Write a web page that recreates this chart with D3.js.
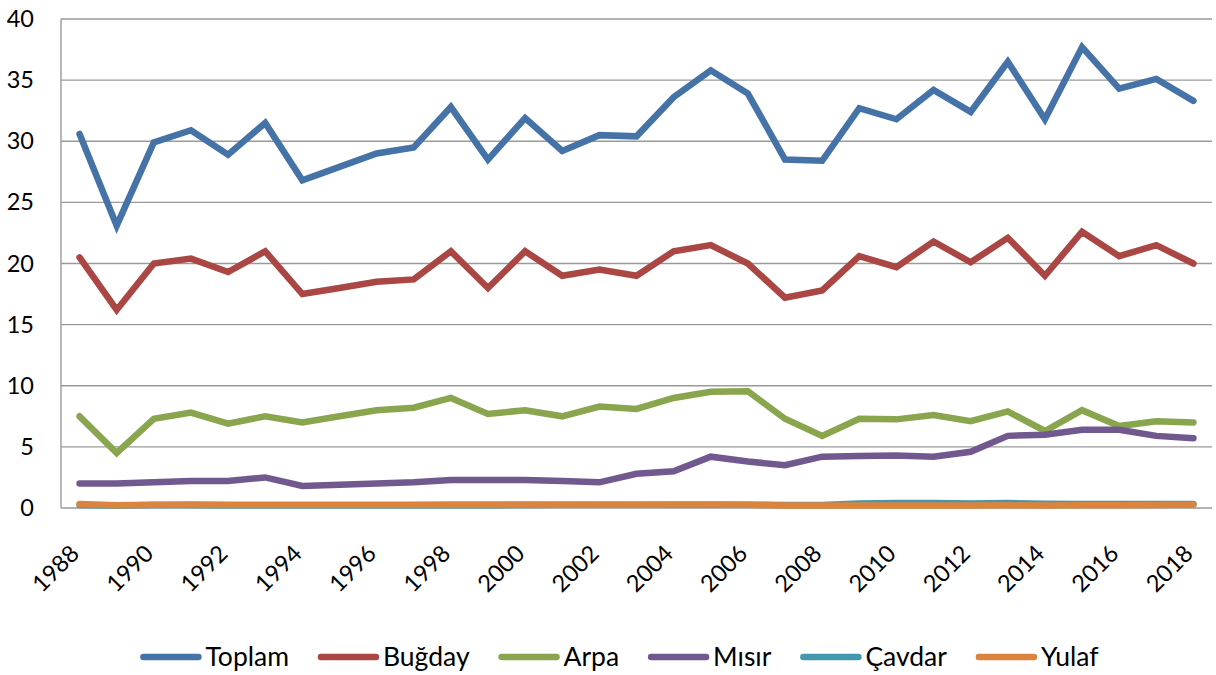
<!DOCTYPE html>
<html>
<head>
<meta charset="utf-8">
<script src="https://cdn.jsdelivr.net/npm/d3@7"></script>
<style>
  html, body { margin: 0; padding: 0; background: #fff; }
  svg { display: block; font-family: Lato, "Open Sans", sans-serif; }
</style>
</head>
<body>
<svg id="chart" width="1216" height="675"></svg>
<script>
// Years on the category axis
const years = d3.range(1988, 2019);

// Production series (million tonnes)
const toplam = [30.6, 23.1, 29.9, 30.9, 28.9, 31.5, 26.8, 27.9, 29.0, 29.5, 32.8, 28.5, 31.9, 29.2, 30.5, 30.4, 33.6, 35.8, 33.9, 28.5, 28.4, 32.7, 31.8, 34.2, 32.4, 36.5, 31.8, 37.7, 34.3, 35.1, 33.3];
const bugday = [20.5, 16.2, 20.0, 20.4, 19.3, 21.0, 17.5, 18.0, 18.5, 18.7, 21.0, 18.0, 21.0, 19.0, 19.5, 19.0, 21.0, 21.5, 20.0, 17.2, 17.8, 20.6, 19.7, 21.8, 20.1, 22.1, 19.0, 22.6, 20.6, 21.5, 20.0];
const arpa   = [7.5, 4.5, 7.3, 7.8, 6.9, 7.5, 7.0, 7.5, 8.0, 8.2, 9.0, 7.7, 8.0, 7.5, 8.3, 8.1, 9.0, 9.5, 9.55, 7.3, 5.9, 7.3, 7.25, 7.6, 7.1, 7.9, 6.3, 8.0, 6.7, 7.1, 7.0];
const misir  = [2.0, 2.0, 2.1, 2.2, 2.2, 2.5, 1.8, 1.9, 2.0, 2.1, 2.3, 2.3, 2.3, 2.2, 2.1, 2.8, 3.0, 4.2, 3.8, 3.5, 4.2, 4.25, 4.3, 4.2, 4.6, 5.9, 6.0, 6.4, 6.4, 5.9, 5.7];
const cavdar = [0.24, 0.2, 0.24, 0.24, 0.23, 0.23, 0.22, 0.22, 0.23, 0.23, 0.23, 0.23, 0.25, 0.26, 0.27, 0.27, 0.27, 0.27, 0.27, 0.25, 0.25, 0.37, 0.4, 0.4, 0.37, 0.4, 0.34, 0.33, 0.32, 0.32, 0.32];
const yulaf  = [0.33, 0.22, 0.27, 0.28, 0.27, 0.27, 0.26, 0.26, 0.27, 0.27, 0.28, 0.28, 0.28, 0.27, 0.27, 0.27, 0.28, 0.28, 0.26, 0.2, 0.2, 0.2, 0.2, 0.2, 0.2, 0.22, 0.2, 0.23, 0.23, 0.25, 0.26];

// Y axis tick values
const yTicks = [0, 5, 10, 15, 20, 25, 30, 35, 40];

const seriesNames  = ["Toplam", "Buğday", "Arpa", "Mısır", "Çavdar", "Yulaf"];
const seriesValues = [toplam, bugday, arpa, misir, cavdar, yulaf];
const seriesColors = ["#4572A7", "#AA4643", "#89A54E", "#71588F", "#4198AF", "#DB843D"];

const series = seriesNames.map((name, i) => ({
  name,
  color: seriesColors[i],
  values: seriesValues[i].map((v, j) => ({ year: years[j], value: v }))
}));

const svg = d3.select("#chart");
const plot = { left: 61, right: 1212, top: 19, bottom: 508 };

const x = d3.scaleBand().domain(years).range([plot.left, plot.right]);
const cx = yr => x(yr) + x.bandwidth() / 2;
const y = d3.scaleLinear().domain([0, 40]).range([plot.bottom, plot.top]);

// Horizontal gridlines
svg.append("g")
  .selectAll("line")
  .data(yTicks.filter(t => t > 0))
  .join("line")
  .attr("x1", plot.left).attr("x2", plot.right)
  .attr("y1", d => y(d)).attr("y2", d => y(d))
  .attr("stroke", "#9a9a9a").attr("stroke-width", 1.4);

// Axis lines
svg.append("line")
  .attr("x1", plot.left).attr("x2", plot.left)
  .attr("y1", plot.top).attr("y2", plot.bottom)
  .attr("stroke", "#9a9a9a").attr("stroke-width", 1.4);
svg.append("line")
  .attr("x1", plot.left).attr("x2", plot.right)
  .attr("y1", plot.bottom).attr("y2", plot.bottom)
  .attr("stroke", "#9a9a9a").attr("stroke-width", 1.4);

// Y axis labels
const yAxis = d3.axisLeft(y).tickValues(yTicks).tickSize(0).tickPadding(27);
const gy = svg.append("g").attr("transform", `translate(${plot.left},0)`).call(yAxis);
gy.select(".domain").remove();
gy.selectAll("text")
  .attr("font-family", "Lato, sans-serif")
  .attr("font-size", 23.5)
  .attr("fill", "#000");

// X axis labels, every second year, rotated
svg.append("g")
  .selectAll("text")
  .data(years.filter(yr => (yr - 1988) % 2 === 0))
  .join("text")
  .attr("transform", d => `translate(${cx(d) + 1},${plot.bottom + 47}) rotate(-45)`)
  .attr("text-anchor", "end")
  .attr("font-size", 23.5)
  .attr("fill", "#000")
  .text(d => d);

// Series lines
const line = d3.line().x(d => cx(d.year)).y(d => y(d.value));
svg.append("g")
  .selectAll("path")
  .data(series)
  .join("path")
  .attr("d", d => line(d.values))
  .attr("fill", "none")
  .attr("stroke", d => d.color)
  .attr("stroke-width", 6.5)
  .attr("stroke-linecap", "round")
  .attr("stroke-linejoin", "miter");

// Legend
const legend = svg.append("g");
const legendY = 657;
const markLen = 55, markGap = 7, itemGap = 32;
const items = legend.selectAll("g").data(series).join("g");
items.append("line")
  .attr("x1", 0).attr("x2", markLen)
  .attr("y1", 0).attr("y2", 0)
  .attr("stroke", d => d.color)
  .attr("stroke-width", 6.5)
  .attr("stroke-linecap", "round");
items.append("text")
  .attr("x", markLen + markGap)
  .attr("dy", "0.35em")
  .attr("font-size", 26.5)
  .attr("fill", "#000")
  .text(d => d.name);
const widths = [];
items.each(function () {
  const w = markLen + markGap + d3.select(this).select("text").node().getComputedTextLength();
  widths.push(w);
});
const total = d3.sum(widths) + itemGap * (widths.length - 1);
let offset = 621 - total / 2;
items.attr("transform", (d, i) => {
  const t = `translate(${offset},${legendY})`;
  offset += widths[i] + itemGap;
  return t;
});
</script>
</body>
</html>
